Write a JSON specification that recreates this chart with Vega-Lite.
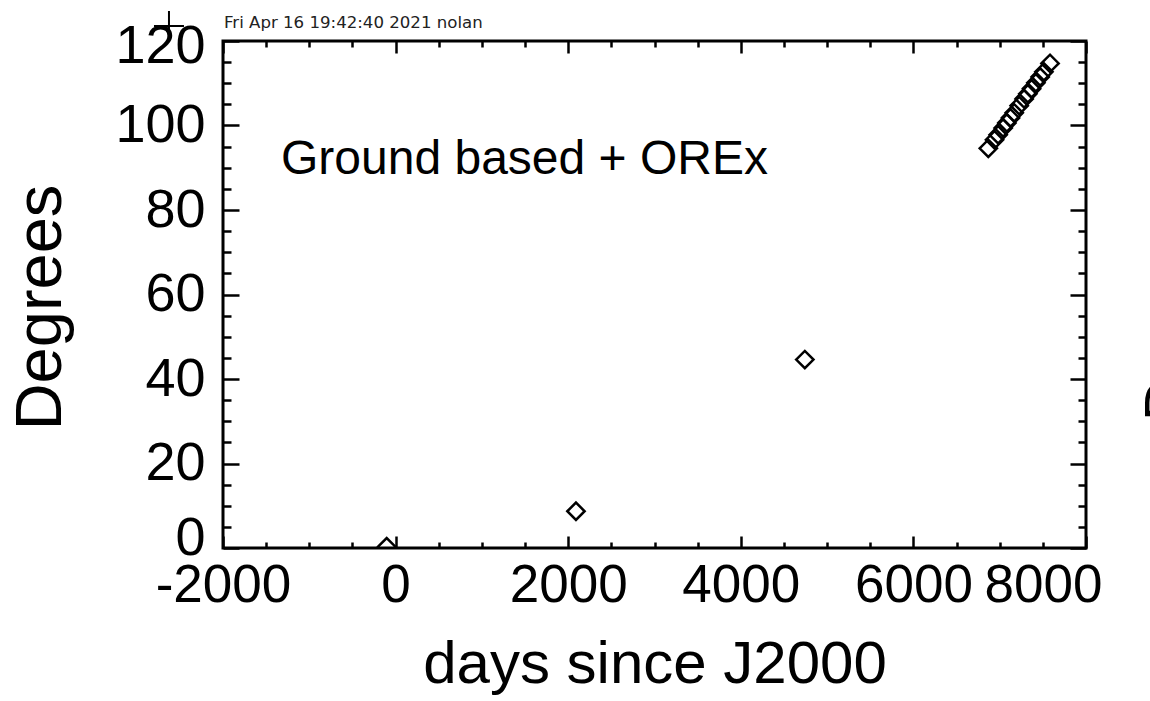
{
  "$schema": "https://vega.github.io/schema/vega-lite/v6.json",
  "autosize": {"type": "none"},
  "width": 863,
  "height": 507,
  "padding": {"left": 223, "top": 41, "right": 64, "bottom": 153},
  "background": "white",
  "config": {
    "view": {"stroke": "black", "strokeWidth": 3},
    "axis": {"domain": false, "grid": false, "tickColor": "black", "tickWidth": 2.5, "labelColor": "black", "titleColor": "black", "labelFont": "Liberation Sans", "titleFont": "Liberation Sans", "titleFontWeight": "normal", "labelOverlap": false}
  },
  "datasets": {
    "obs": [
      {"day": -103, "deg": 0.3},
      {"day": 2090, "deg": 8.7},
      {"day": 4742, "deg": 44.6},
      {"day": 6868, "deg": 94.6},
      {"day": 6940, "deg": 96.6},
      {"day": 6982, "deg": 97.8},
      {"day": 7040, "deg": 99.4},
      {"day": 7083, "deg": 100.6},
      {"day": 7125, "deg": 101.8},
      {"day": 7168, "deg": 103.0},
      {"day": 7226, "deg": 104.7},
      {"day": 7283, "deg": 106.3},
      {"day": 7326, "deg": 107.5},
      {"day": 7369, "deg": 108.7},
      {"day": 7419, "deg": 110.1},
      {"day": 7469, "deg": 111.5},
      {"day": 7512, "deg": 112.7},
      {"day": 7583, "deg": 114.7}
    ]
  },
  "resolve": {"axis": {"x": "independent", "y": "independent"}},
  "layer": [
    {
      "data": {"name": "obs"},
      "mark": {"type": "point", "shape": "diamond", "filled": false, "stroke": "black", "strokeWidth": 2.5, "size": 300, "opacity": 1, "clip": true},
      "encoding": {
        "x": {"field": "day", "type": "quantitative", "scale": {"domain": [-2000, 8000], "nice": false, "zero": false},
          "axis": {"orient": "bottom", "values": [-2000, 0, 2000, 4000, 6000, 8000], "tickSize": -12, "labelFontSize": 53, "labelPadding": 23, "labelBaseline": "top", "labelFlush": false,
            "labelExpr": "'' + datum.value",
            "labelAlign": {"condition": {"test": "datum.value == 8000", "value": "right"}, "value": "center"},
            "labelOffset": {"condition": {"test": "datum.value == 8000", "value": 16}, "value": 0},
            "title": "days since J2000", "titleFontSize": 60, "titleBaseline": "alphabetic", "titleY": 134}},
        "y": {"field": "deg", "type": "quantitative", "scale": {"domain": [0, 120], "nice": false, "zero": false},
          "axis": {"orient": "left", "values": [0, 20, 40, 60, 80, 100, 120], "tickSize": -16, "labelFontSize": 54, "labelPadding": 34, "labelBaseline": "middle", "labelFlush": false,
            "labelExpr": "'' + datum.value",
            "labelOffset": {"condition": [{"test": "datum.value == 120", "value": 5}, {"test": "datum.value == 0", "value": -10}], "value": 0},
            "title": "Degrees", "titleFontSize": 65, "titleBaseline": "alphabetic", "titleAlign": "center", "titleAngle": 270, "titleX": -163, "titleY": 266}}
      }
    },
    {
      "data": {"name": "obs"},
      "mark": {"type": "point", "opacity": 0},
      "encoding": {
        "x": {"field": "day", "type": "quantitative", "axis": {"orient": "bottom", "values": [-1500, -1000, -500, 500, 1000, 1500, 2500, 3000, 3500, 4500, 5000, 5500, 6500, 7000, 7500], "tickSize": -6, "labels": false, "title": null}},
        "y": {"field": "deg", "type": "quantitative", "axis": {"orient": "left", "values": [5, 10, 15, 25, 30, 35, 45, 50, 55, 65, 70, 75, 85, 90, 95, 105, 110, 115], "tickSize": -8, "labels": false, "title": null}}
      }
    },
    {
      "data": {"name": "obs"},
      "mark": {"type": "point", "opacity": 0},
      "encoding": {
        "x": {"field": "day", "type": "quantitative", "axis": {"orient": "top", "values": [-2000, 0, 2000, 4000, 6000, 8000], "tickSize": -12, "labels": false, "title": null}},
        "y": {"field": "deg", "type": "quantitative", "axis": {"orient": "right", "values": [0, 20, 40, 60, 80, 100, 120], "tickSize": -16, "labels": false, "title": null}}
      }
    },
    {
      "data": {"name": "obs"},
      "mark": {"type": "point", "opacity": 0},
      "encoding": {
        "x": {"field": "day", "type": "quantitative", "axis": {"orient": "top", "values": [-1500, -1000, -500, 500, 1000, 1500, 2500, 3000, 3500, 4500, 5000, 5500, 6500, 7000, 7500], "tickSize": -6, "labels": false, "title": null}},
        "y": {"field": "deg", "type": "quantitative", "axis": {"orient": "right", "values": [5, 10, 15, 25, 30, 35, 45, 50, 55, 65, 70, 75, 85, 90, 95, 105, 110, 115], "tickSize": -8, "labels": false, "title": null}}
      }
    },
    {
      "data": {"values": [{}]},
      "mark": {"type": "text", "font": "Liberation Sans", "fontSize": 48, "align": "left", "baseline": "alphabetic", "color": "black"},
      "encoding": {"x": {"datum": -1328, "type": "quantitative", "axis": null}, "y": {"datum": 88.55, "type": "quantitative", "axis": null}, "text": {"value": "Ground based + OREx"}}
    },
    {
      "data": {"values": [{}]},
      "mark": {"type": "text", "font": "DejaVu Sans", "fontSize": 16.6, "align": "left", "baseline": "alphabetic", "color": "#222222"},
      "encoding": {"x": {"datum": -1988, "type": "quantitative", "axis": null}, "y": {"datum": 123.07, "type": "quantitative", "axis": null}, "text": {"value": "Fri Apr 16 19:42:40 2021 nolan"}}
    },
    {
      "data": {"values": [{}]},
      "mark": {"type": "point", "shape": "M-1,0L1,0M0,-1L0,1", "filled": false, "stroke": "black", "strokeWidth": 2, "size": 900, "opacity": 1},
      "encoding": {"x": {"datum": -2626, "type": "quantitative", "axis": null}, "y": {"datum": 123.55, "type": "quantitative", "axis": null}}
    },
    {
      "data": {"values": [{}]},
      "mark": {"type": "text", "font": "Liberation Sans", "fontSize": 60, "align": "center", "baseline": "alphabetic", "angle": 270, "color": "black"},
      "encoding": {"x": {"datum": 9159, "type": "quantitative", "axis": null}, "y": {"datum": 35.1, "type": "quantitative", "axis": null}, "text": {"value": "D"}}
    }
  ]
}
